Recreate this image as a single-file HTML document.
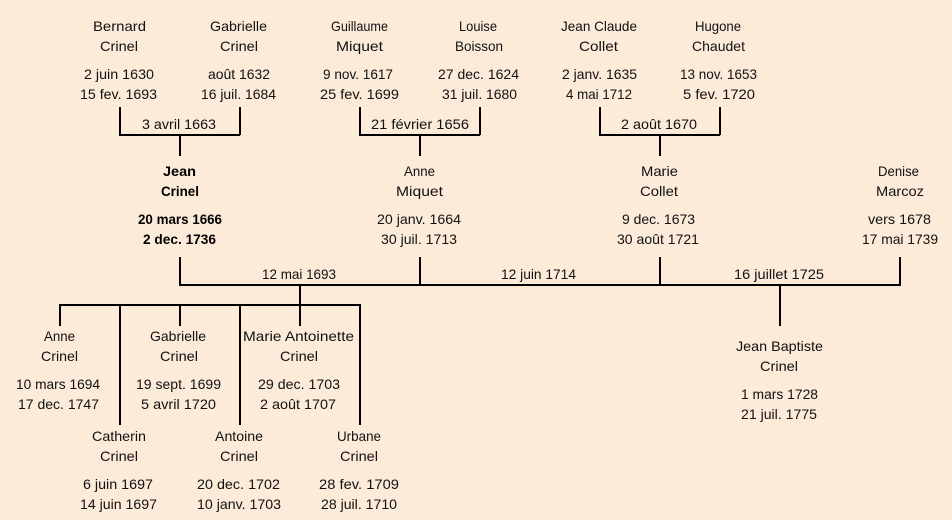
<!DOCTYPE html>
<html><head><meta charset="utf-8"><title>Crinel</title>
<style>
html,body{margin:0;padding:0;background:#fcebd9}
svg{display:block}
text{font-family:"Liberation Sans",sans-serif;font-size:14px;fill:#111;text-anchor:start}
.b{font-weight:bold;fill:#000}
</style></head><body>
<svg width="952" height="520" viewBox="0 0 952 520" xmlns="http://www.w3.org/2000/svg">
<rect width="952" height="520" fill="#fcebd9"/>
<g stroke="#000" stroke-width="2" fill="none">
<path d="M120 107V135H240M240 107V135M180 135V156"/>
<path d="M360 107V135H480M480 107V135M420 135V156"/>
<path d="M600 107V135H720M720 107V135M660 135V156"/>
<path d="M180 257V285H900V257M420 257V285M660 257V285"/>
<path d="M300 285V326M780 285V326"/>
<path d="M60 326V305H360V425M120 305V425M180 305V326M240 305V425"/>
</g>
<g lengthAdjust="spacingAndGlyphs">
<text x="93" y="31" textLength="53" lengthAdjust="spacingAndGlyphs">Bernard</text>
<text x="100" y="51" textLength="38" lengthAdjust="spacingAndGlyphs">Crinel</text>
<text x="84" y="79" textLength="70" lengthAdjust="spacingAndGlyphs">2 juin 1630</text>
<text x="80" y="99" textLength="77" lengthAdjust="spacingAndGlyphs">15 fev. 1693</text>

<text x="210" y="31" textLength="57" lengthAdjust="spacingAndGlyphs">Gabrielle</text>
<text x="220" y="51" textLength="38" lengthAdjust="spacingAndGlyphs">Crinel</text>
<text x="208" y="79" textLength="62" lengthAdjust="spacingAndGlyphs">août 1632</text>
<text x="201" y="99" textLength="75" lengthAdjust="spacingAndGlyphs">16 juil. 1684</text>

<text x="331" y="31" textLength="57" lengthAdjust="spacingAndGlyphs">Guillaume</text>
<text x="336" y="51" textLength="47" lengthAdjust="spacingAndGlyphs">Miquet</text>
<text x="323" y="79" textLength="70" lengthAdjust="spacingAndGlyphs">9 nov. 1617</text>
<text x="320" y="99" textLength="79" lengthAdjust="spacingAndGlyphs">25 fev. 1699</text>

<text x="459" y="31" textLength="38" lengthAdjust="spacingAndGlyphs">Louise</text>
<text x="455" y="51" textLength="48" lengthAdjust="spacingAndGlyphs">Boisson</text>
<text x="438" y="79" textLength="81" lengthAdjust="spacingAndGlyphs">27 dec. 1624</text>
<text x="442" y="99" textLength="75" lengthAdjust="spacingAndGlyphs">31 juil. 1680</text>

<text x="561" y="31" textLength="76" lengthAdjust="spacingAndGlyphs">Jean Claude</text>
<text x="579" y="51" textLength="39" lengthAdjust="spacingAndGlyphs">Collet</text>
<text x="562" y="79" textLength="75" lengthAdjust="spacingAndGlyphs">2 janv. 1635</text>
<text x="566" y="99" textLength="66" lengthAdjust="spacingAndGlyphs">4 mai 1712</text>

<text x="695" y="31" textLength="46" lengthAdjust="spacingAndGlyphs">Hugone</text>
<text x="692" y="51" textLength="53" lengthAdjust="spacingAndGlyphs">Chaudet</text>
<text x="680" y="79" textLength="77" lengthAdjust="spacingAndGlyphs">13 nov. 1653</text>
<text x="683" y="99" textLength="72" lengthAdjust="spacingAndGlyphs">5 fev. 1720</text>

<text x="142" y="129" textLength="74" lengthAdjust="spacingAndGlyphs">3 avril 1663</text>
<text x="371" y="129" textLength="98" lengthAdjust="spacingAndGlyphs">21 février 1656</text>
<text x="621" y="129" textLength="76" lengthAdjust="spacingAndGlyphs">2 août 1670</text>

<text class="b" x="163" y="176" textLength="33" lengthAdjust="spacingAndGlyphs">Jean</text>
<text class="b" x="161" y="196" textLength="38" lengthAdjust="spacingAndGlyphs">Crinel</text>
<text class="b" x="138" y="224" textLength="84" lengthAdjust="spacingAndGlyphs">20 mars 1666</text>
<text class="b" x="143" y="244" textLength="73" lengthAdjust="spacingAndGlyphs">2 dec. 1736</text>

<text x="404" y="176" textLength="31" lengthAdjust="spacingAndGlyphs">Anne</text>
<text x="396" y="196" textLength="47" lengthAdjust="spacingAndGlyphs">Miquet</text>
<text x="377" y="224" textLength="84" lengthAdjust="spacingAndGlyphs">20 janv. 1664</text>
<text x="381" y="244" textLength="76" lengthAdjust="spacingAndGlyphs">30 juil. 1713</text>

<text x="641" y="176" textLength="37" lengthAdjust="spacingAndGlyphs">Marie</text>
<text x="640" y="196" textLength="38" lengthAdjust="spacingAndGlyphs">Collet</text>
<text x="622" y="224" textLength="73" lengthAdjust="spacingAndGlyphs">9 dec. 1673</text>
<text x="617" y="244" textLength="82" lengthAdjust="spacingAndGlyphs">30 août 1721</text>

<text x="878" y="176" textLength="41" lengthAdjust="spacingAndGlyphs">Denise</text>
<text x="876" y="196" textLength="48" lengthAdjust="spacingAndGlyphs">Marcoz</text>
<text x="868" y="224" textLength="63" lengthAdjust="spacingAndGlyphs">vers 1678</text>
<text x="862" y="244" textLength="76" lengthAdjust="spacingAndGlyphs">17 mai 1739</text>

<text x="262" y="279" textLength="74" lengthAdjust="spacingAndGlyphs">12 mai 1693</text>
<text x="501" y="279" textLength="75" lengthAdjust="spacingAndGlyphs">12 juin 1714</text>
<text x="734" y="279" textLength="90" lengthAdjust="spacingAndGlyphs">16 juillet 1725</text>

<text x="44" y="341" textLength="31" lengthAdjust="spacingAndGlyphs">Anne</text>
<text x="41" y="361" textLength="37" lengthAdjust="spacingAndGlyphs">Crinel</text>
<text x="16" y="389" textLength="84" lengthAdjust="spacingAndGlyphs">10 mars 1694</text>
<text x="18" y="409" textLength="81" lengthAdjust="spacingAndGlyphs">17 dec. 1747</text>

<text x="150" y="341" textLength="56" lengthAdjust="spacingAndGlyphs">Gabrielle</text>
<text x="160" y="361" textLength="38" lengthAdjust="spacingAndGlyphs">Crinel</text>
<text x="136" y="389" textLength="85" lengthAdjust="spacingAndGlyphs">19 sept. 1699</text>
<text x="141" y="409" textLength="75" lengthAdjust="spacingAndGlyphs">5 avril 1720</text>

<text x="243" y="341" textLength="111" lengthAdjust="spacingAndGlyphs">Marie Antoinette</text>
<text x="280" y="361" textLength="38" lengthAdjust="spacingAndGlyphs">Crinel</text>
<text x="258" y="389" textLength="82" lengthAdjust="spacingAndGlyphs">29 dec. 1703</text>
<text x="260" y="409" textLength="76" lengthAdjust="spacingAndGlyphs">2 août 1707</text>

<text x="92" y="441" textLength="54" lengthAdjust="spacingAndGlyphs">Catherin</text>
<text x="100" y="461" textLength="38" lengthAdjust="spacingAndGlyphs">Crinel</text>
<text x="83" y="489" textLength="70" lengthAdjust="spacingAndGlyphs">6 juin 1697</text>
<text x="80" y="509" textLength="77" lengthAdjust="spacingAndGlyphs">14 juin 1697</text>

<text x="215" y="441" textLength="48" lengthAdjust="spacingAndGlyphs">Antoine</text>
<text x="220" y="461" textLength="38" lengthAdjust="spacingAndGlyphs">Crinel</text>
<text x="197" y="489" textLength="83" lengthAdjust="spacingAndGlyphs">20 dec. 1702</text>
<text x="197" y="509" textLength="84" lengthAdjust="spacingAndGlyphs">10 janv. 1703</text>

<text x="337" y="441" textLength="44" lengthAdjust="spacingAndGlyphs">Urbane</text>
<text x="340" y="461" textLength="38" lengthAdjust="spacingAndGlyphs">Crinel</text>
<text x="319" y="489" textLength="80" lengthAdjust="spacingAndGlyphs">28 fev. 1709</text>
<text x="321" y="509" textLength="76" lengthAdjust="spacingAndGlyphs">28 juil. 1710</text>

<text x="736" y="351" textLength="87" lengthAdjust="spacingAndGlyphs">Jean Baptiste</text>
<text x="760" y="371" textLength="38" lengthAdjust="spacingAndGlyphs">Crinel</text>
<text x="741" y="399" textLength="77" lengthAdjust="spacingAndGlyphs">1 mars 1728</text>
<text x="741" y="419" textLength="76" lengthAdjust="spacingAndGlyphs">21 juil. 1775</text>
</g>
</svg>
</body></html>
